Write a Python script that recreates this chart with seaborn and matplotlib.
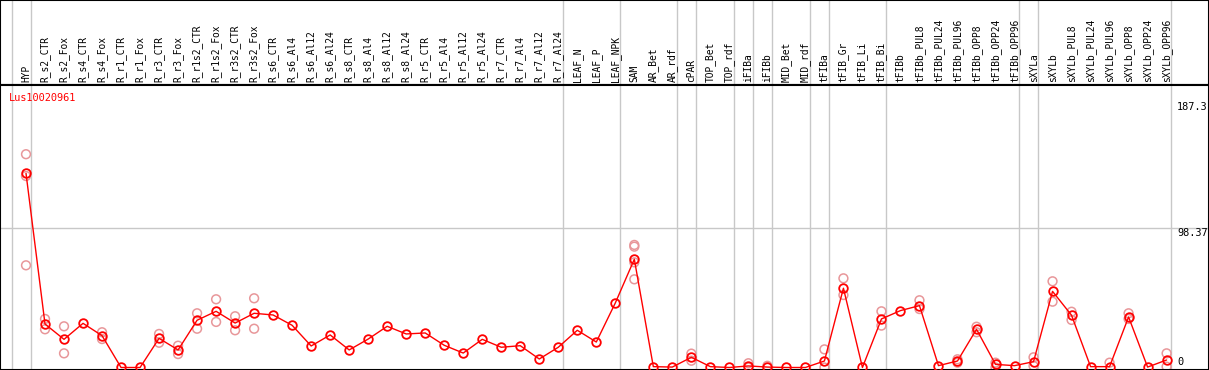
import matplotlib
matplotlib.use("Agg")
import matplotlib.pyplot as plt
import numpy as np
import pandas as pd
import seaborn as sns

# ---------------------------------------------------------------------------
# Data
# ---------------------------------------------------------------------------

GENE = "Lus10020961"

categories = [
    "HYP",
    "R_s2_CTR", "R_s2_Fox", "R_s4_CTR", "R_s4_Fox", "R_r1_CTR", "R_r1_Fox",
    "R_r3_CTR", "R_r3_Fox", "R_r1s2_CTR", "R_r1s2_Fox", "R_r3s2_CTR", "R_r3s2_Fox",
    "R_s6_CTR", "R_s6_Al4", "R_s6_Al12", "R_s6_Al24",
    "R_s8_CTR", "R_s8_Al4", "R_s8_Al12", "R_s8_Al24",
    "R_r5_CTR", "R_r5_Al4", "R_r5_Al12", "R_r5_Al24",
    "R_r7_CTR", "R_r7_Al4", "R_r7_Al12", "R_r7_Al24",
    "LEAF_N", "LEAF_P", "LEAF_NPK", "SAM", "AR_Bet", "AR_rdf", "cPAR",
    "TOP_Bet", "TOP_rdf", "iFIBa", "iFIBb", "MID_Bet", "MID_rdf",
    "tFIBa", "tFIB_Gr", "tFIB_Li", "tFIB_Bi", "tFIBb",
    "tFIBb_PUL8", "tFIBb_PUL24", "tFIBb_PUL96",
    "tFIBb_OPP8", "tFIBb_OPP24", "tFIBb_OPP96",
    "sXYLa", "sXYLb",
    "sXYLb_PUL8", "sXYLb_PUL24", "sXYLb_PUL96",
    "sXYLb_OPP8", "sXYLb_OPP24", "sXYLb_OPP96",
]

mean_values = [
    137.2,
    30.7, 19.9, 31.2, 22.5, 0.0, 0.0,
    20.6, 12.4, 33.4, 39.7, 31.4, 38.3,
    37.1, 29.8, 15.2, 23.0,
    12.4, 20.1, 29.1, 23.7,
    24.4, 15.7, 10.2, 19.9,
    14.3, 15.4, 6.0, 14.3,
    26.3, 18.0, 45.6, 76.5, 0.6, 0.3, 7.2,
    0.6, 0.0, 1.1, 0.3, 0.0, 0.0,
    4.6, 56.0, 0.0, 34.3, 40.2,
    43.7, 1.3, 4.6,
    27.0, 2.2, 1.3,
    4.1, 53.8,
    36.9, 0.6, 0.6,
    35.7, 0.3, 5.3,
]

# individual replicates: (category, value)
replicates = [
    ("HYP", 150.7), ("HYP", 135.3), ("HYP", 72.2),
    ("R_s2_CTR", 34.3), ("R_s2_CTR", 27.0),
    ("R_s2_Fox", 29.1), ("R_s2_Fox", 10.0),
    ("R_s4_Fox", 24.9), ("R_s4_Fox", 20.1),
    ("R_r3_CTR", 23.7), ("R_r3_CTR", 17.5),
    ("R_r3_Fox", 15.4), ("R_r3_Fox", 9.5),
    ("R_r1s2_CTR", 38.3), ("R_r1s2_CTR", 27.4),
    ("R_r1s2_Fox", 48.2), ("R_r1s2_Fox", 32.2),
    ("R_r3s2_CTR", 36.2), ("R_r3s2_CTR", 26.3),
    ("R_r3s2_Fox", 48.9), ("R_r3s2_Fox", 27.4),
    ("SAM", 86.6), ("SAM", 85.4), ("SAM", 62.3), ("SAM", 74.3),
    ("cPAR", 9.8), ("cPAR", 4.8),
    ("iFIBa", 3.0), ("iFIBa", 0.0),
    ("iFIBb", 1.2),
    ("tFIBa", 12.8), ("tFIBa", 0.0),
    ("tFIB_Gr", 63.0), ("tFIB_Gr", 51.2),
    ("tFIB_Bi", 39.7), ("tFIB_Bi", 29.6),
    ("tFIBb_PUL8", 47.5), ("tFIBb_PUL8", 41.3),
    ("tFIBb_PUL96", 5.8), ("tFIBb_PUL96", 3.4),
    ("tFIBb_OPP8", 28.8), ("tFIBb_OPP8", 24.9),
    ("tFIBb_OPP24", 3.4), ("tFIBb_OPP24", 0.0),
    ("sXYLa", 7.2), ("sXYLa", 1.1),
    ("sXYLb", 60.9), ("sXYLb", 46.5),
    ("sXYLb_PUL8", 39.4), ("sXYLb_PUL8", 33.6),
    ("sXYLb_PUL96", 3.4),
    ("sXYLb_OPP8", 38.3), ("sXYLb_OPP8", 34.3),
    ("sXYLb_OPP96", 10.0), ("sXYLb_OPP96", 0.6),
]

# last category of each tissue group (a separator is drawn after it)
group_ends = [None, "HYP", "R_r7_Al24", "LEAF_NPK", "AR_rdf", "cPAR", "TOP_rdf",
              "iFIBa", "iFIBb", "MID_rdf", "tFIBa", "tFIB_Bi", "tFIBb_OPP96",
              "sXYLa", "sXYLb_OPP96"]

y_ticks = [0, 98.37, 187.3]

# ---------------------------------------------------------------------------
# Plot
# ---------------------------------------------------------------------------

sns.set_style("white")
plt.rcParams["font.family"] = ["DejaVu Sans Mono", "DejaVu Sans"]
plt.rcParams["text.color"] = "black"

pos = {c: i for i, c in enumerate(categories)}
means = pd.DataFrame({"pos": range(len(categories)), "value": mean_values})
reps = pd.DataFrame(replicates, columns=["cat", "value"])
reps["pos"] = reps["cat"].map(pos)

W, H = 1209, 370
HEADER = 85
fig = plt.figure(figsize=(W / 100, H / 100), dpi=100)
ax_head = fig.add_axes([0, (H - HEADER) / H, 1, HEADER / H])
ax = fig.add_axes([0, 0, 1, (H - HEADER) / H], sharex=ax_head)

step = 19.01
x0 = -26 / step
ax.set_xlim(x0, x0 + W / step)
ax.set_ylim(-1.77, 199.6)
ax_head.set_ylim(0, 1)

GRID = "#c8c8c8"
sep_x = [(-1 if g is None else pos[g]) + 0.24 for g in group_ends]
for a in (ax, ax_head):
    for sx in sep_x:
        a.axvline(sx, color=GRID, lw=1.0, zorder=0)
    for s in a.spines.values():
        s.set_color("black")
        s.set_linewidth(1.5)
        s.set_visible(True)
    a.set_xticks([])
    a.set_yticks([])
    a.set_xlabel("")
    a.set_ylabel("")
ax.axhline(98.37, color=GRID, lw=1.0, zorder=0)

sns.scatterplot(
    data=reps, x="pos", y="value", ax=ax, marker="o", s=40,
    facecolors="none", edgecolor="#e8979a", linewidth=1.1, zorder=2, legend=False,
)
sns.lineplot(
    data=means, x="pos", y="value", ax=ax, color="#ff0000", lw=1.0,
    marker="o", markersize=6.2, markerfacecolor="none", markeredgecolor="#ff0000",
    markeredgewidth=1.3, zorder=3,
)
ax.set_xlabel("")
ax.set_ylabel("")

for c, i in pos.items():
    ax_head.text(i, 0.03, c, rotation=90, ha="center", va="bottom",
                 fontsize=6.9, color="black")

ax.text(9 / W, (H - 98) / (H - HEADER), GENE, transform=ax.transAxes,
        color="#ff0000", fontsize=7.4, ha="left", va="center")

lab_x = x0 + 1177 / step
for t in y_ticks:
    ax.text(lab_x, t, f"{t:g}", fontsize=7.4, ha="left", color="black",
            va="bottom" if t == 0 else "top")

fig.savefig("out.png", dpi=100)
